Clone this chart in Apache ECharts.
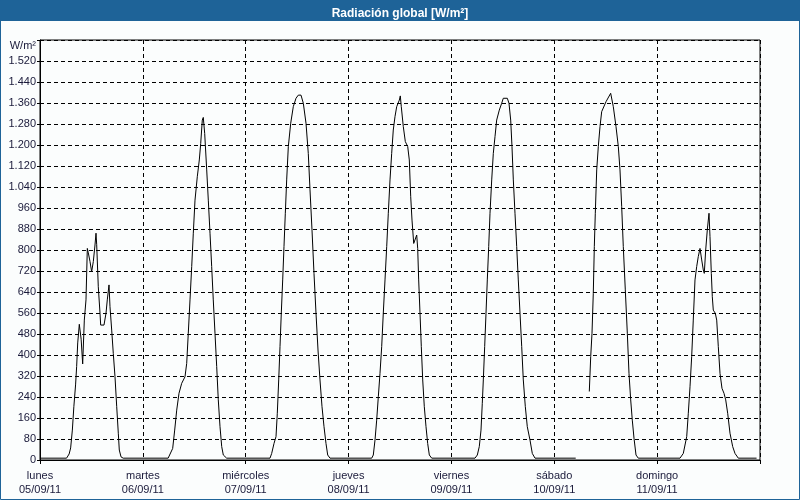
<!DOCTYPE html>
<html>
<head>
<meta charset="utf-8">
<script src="https://cdn.jsdelivr.net/npm/echarts@6/dist/echarts.min.js"></script>
<style>
html,body{margin:0;padding:0;background:#fbfdfd;}
#chart{width:800px;height:500px;}
</style>
</head>
<body>
<div id="chart"></div>
<script>
// Day labels
const dayNames = ['lunes','martes','miércoles','jueves','viernes','sábado','domingo'];
const dayDates = ['05/09/11','06/09/11','07/09/11','08/09/11','09/09/11','10/09/11','11/09/11'];

// Hour of day / value (W/m²) for each day
const monHours = [0, 6.2, 6.8, 7.15, 7.55, 7.9, 8.3, 8.55, 8.8, 9.17, 9.6, 9.96, 10.34, 10.73, 11.04, 11.27, 11.67, 12.05, 12.44, 12.83, 13.07, 13.23, 13.6, 14.0, 14.16, 14.93, 15.4, 15.7, 16.1, 16.33, 16.73, 17.1, 17.5, 17.9, 18.27, 18.5, 18.9, 19.4];
const monValues = [7, 7, 23, 46, 114, 203, 286, 356, 446, 517, 460, 366, 533, 610, 806, 789, 756, 717, 756, 819, 864, 820, 660, 559, 514, 514, 559, 610, 667, 584, 495, 406, 317, 203, 102, 38, 12, 7];

const tueHours = [5.9, 6.33, 6.96, 7.43, 7.9, 8.43, 9.06, 9.83, 10.23, 10.6, 11.0, 11.4, 11.77, 12.17, 12.7, 13.17, 13.5, 13.87, 14.1, 14.43, 14.9, 15.27, 15.67, 16.06, 16.43, 16.83, 17.23, 17.6, 18.0, 18.4, 18.77, 19.56];
const tueValues = [7, 10, 44, 114, 190, 254, 292, 317, 368, 483, 610, 737, 864, 990, 1079, 1143, 1206, 1295, 1305, 1244, 1105, 990, 864, 737, 610, 483, 356, 229, 127, 51, 19, 7];

const wedHours = [5.67, 6.06, 6.6, 7.07, 7.37, 7.7, 8.0, 8.3, 8.63, 8.93, 9.24, 9.56, 9.94, 10.5, 11.1, 11.73, 12.27, 12.9, 13.44, 14.07, 14.6, 15.0, 15.47, 15.93, 16.4, 16.87, 17.33, 17.8, 18.27, 18.73, 19.13, 19.67];
const wedValues = [7, 25, 63, 89, 178, 305, 432, 559, 686, 813, 940, 1067, 1194, 1283, 1346, 1378, 1390, 1390, 1359, 1283, 1168, 1029, 876, 711, 559, 419, 305, 203, 127, 63, 19, 7];

const thuHours = [5.4, 5.77, 6.17, 6.56, 6.94, 7.33, 7.73, 8.1, 8.5, 8.9, 9.27, 9.67, 10.06, 10.43, 10.83, 11.23, 11.84, 12.07, 12.3, 12.77, 13.24, 13.8, 14.17, 14.5, 14.8, 15.2, 15.9, 16.13, 16.36, 16.67, 16.97, 17.3, 17.67, 18.07, 18.46, 18.84, 19.4];
const thuValues = [7, 19, 76, 152, 241, 330, 432, 559, 686, 813, 940, 1067, 1168, 1257, 1308, 1346, 1371, 1387, 1346, 1270, 1213, 1194, 1143, 1003, 914, 825, 857, 806, 686, 559, 432, 305, 203, 127, 63, 19, 7];

const friHours = [5.5, 6.04, 6.5, 6.9, 7.2, 7.44, 7.76, 8.07, 8.37, 8.7, 9.0, 9.4, 9.77, 10.17, 10.56, 11.17, 11.73, 12.1, 13.04, 13.43, 13.83, 14.13, 14.44, 14.83, 15.23, 15.6, 16.0, 16.4, 16.77, 17.24, 17.7, 18.33, 18.87, 19.5];
const friValues = [7, 19, 51, 114, 216, 305, 432, 559, 686, 813, 940, 1067, 1168, 1232, 1295, 1333, 1359, 1378, 1378, 1359, 1295, 1194, 1067, 940, 813, 686, 559, 432, 305, 203, 127, 76, 25, 7];

const satHours = [5.0, 6.5, 8.17, 8.5, 8.8, 9.1, 9.34, 9.57, 9.9, 10.27, 10.67, 11.06, 12.07, 13.16, 13.77, 14.4, 14.94, 15.33, 15.73, 16.1, 16.57, 17.04, 17.43, 17.83, 18.2, 18.6, 19.07, 19.6];
const satValues = [7, null, 261, 394, 483, 635, 813, 940, 1105, 1194, 1270, 1327, 1365, 1397, 1346, 1270, 1194, 1105, 965, 813, 648, 483, 330, 229, 152, 83, 19, 7];

const sunHours = [5.33, 6.1, 6.9, 7.27, 7.67, 8.06, 8.43, 8.83, 9.23, 9.6, 10.0, 10.4, 10.77, 11.0, 11.33, 11.7, 12.1, 12.33, 12.64, 12.87, 13.1, 13.57, 13.9, 14.27, 14.67, 15.13, 15.6, 16.0, 16.46, 17.0, 17.63, 18.17, 18.94, 23.2];
const sunValues = [7, 25, 89, 178, 279, 394, 533, 686, 737, 775, 806, 762, 724, 711, 800, 876, 940, 851, 711, 622, 571, 559, 533, 432, 330, 273, 254, 229, 178, 102, 51, 25, 7, 7];

const allHours = [monHours, tueHours, wedHours, thuHours, friHours, satHours, sunHours];
const allValues = [monValues, tueValues, wedValues, thuValues, friValues, satValues, sunValues];

const seriesData = [];
allHours.forEach((hs, d) => {
  hs.forEach((h, i) => {
    const v = allValues[d][i];
    seriesData.push([d * 24 + h, v === null ? '-' : v]);
  });
});

const labelColor = '#1a1a3a';
const font = 'Liberation Sans, Arial, sans-serif';

const chart = echarts.init(document.getElementById('chart'), null, {renderer: 'canvas'});
chart.setOption({
  animation: false,
  backgroundColor: '#fbfdfd',
  textStyle: {fontFamily: font},
  title: {
    text: 'Radiación global [W/m²]',
    left: 'center',
    top: 3,
    z: 10,
    textStyle: {color: '#ffffff', fontWeight: 'bold', fontSize: 12, fontFamily: font}
  },
  graphic: [
    {type: 'rect', z: 0, shape: {x: 0, y: 0, width: 800, height: 21}, style: {fill: '#1e6398'}},
    {type: 'rect', z: 0, shape: {x: 0.5, y: 0.5, width: 799, height: 499}, style: {fill: 'none', stroke: '#1e6398', lineWidth: 1}}
  ],
  grid: {left: 40, right: 40, top: 40, bottom: 40, show: true, borderColor: '#000', borderWidth: 1, backgroundColor: 'transparent'},
  xAxis: {
    type: 'value', min: 0, max: 168, interval: 24,
    axisLine: {show: true, lineStyle: {color: '#000', width: 1}},
    axisTick: {show: true, length: 4, lineStyle: {color: '#000'}},
    splitLine: {show: true, lineStyle: {color: '#000', width: 1, type: [4, 3]}},
    axisLabel: {
      color: labelColor, fontSize: 11, fontFamily: font, lineHeight: 14, margin: 9,
      formatter: function (v) {
        const i = Math.round(v / 24);
        return i < 7 ? dayNames[i] + '\n' + dayDates[i] : '';
      }
    }
  },
  yAxis: {
    type: 'value', min: 0, max: 1600, interval: 80,
    name: 'W/m²', nameLocation: 'end', nameGap: -6,
    nameTextStyle: {color: labelColor, fontSize: 11, fontFamily: font, align: 'right', verticalAlign: 'middle', padding: [0, 4, 0, 0]},
    axisLine: {show: true, lineStyle: {color: '#000', width: 1}},
    axisTick: {show: true, length: 3, lineStyle: {color: '#000'}},
    splitLine: {show: true, lineStyle: {color: '#000', width: 1, type: [4, 3]}},
    axisLabel: {
      color: labelColor, fontSize: 11, fontFamily: font, margin: 4,
      formatter: function (v) {
        if (v >= 1600) return '';
        if (v >= 1000) {
          const s = String(v);
          return s.slice(0, s.length - 3) + '.' + s.slice(-3);
        }
        return String(v);
      }
    }
  },
  series: [{
    type: 'line',
    data: seriesData,
    showSymbol: false,
    connectNulls: false,
    lineStyle: {color: '#000', width: 1},
    itemStyle: {color: '#000'}
  }]
});
</script>
</body>
</html>
